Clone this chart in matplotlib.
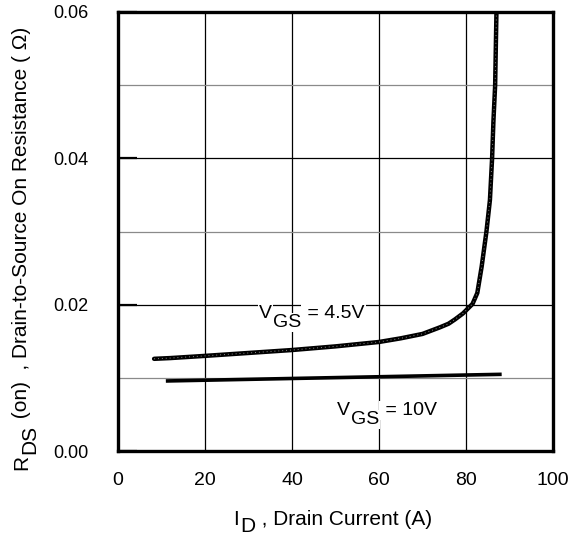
import matplotlib
matplotlib.use("Agg")
import matplotlib.pyplot as plt
import numpy as np

plt.rcParams["font.family"] = ["Liberation Sans", "DejaVu Sans"]

# ── Data ──────────────────────────────────────────────────────────────
id_45 = [8.3, 12, 20, 30, 40, 50, 60, 65, 70, 74, 76, 77.5, 79.3, 81.5,
         82.6, 83.6, 84.7, 85.5, 86.0, 86.3, 86.7, 87.0]
rds_45 = [0.0126, 0.0127, 0.0130, 0.0134, 0.0138, 0.0143, 0.0149, 0.0154,
          0.0160, 0.0169, 0.0174, 0.0180, 0.0188, 0.0201, 0.0216, 0.0252,
          0.0300, 0.0343, 0.0400, 0.0450, 0.0500, 0.0600]

id_10 = [11, 88.2]
rds_10 = [0.00957, 0.01048]

x_ticks = [0, 20, 40, 60, 80, 100]
y_ticks = [0.00, 0.02, 0.04, 0.06]
y_minor = [0.01, 0.03, 0.05]

FIG_W, FIG_H = 570, 537

# ── Figure / axes ─────────────────────────────────────────────────────
fig = plt.figure(figsize=(FIG_W / 100, FIG_H / 100), dpi=100)
ax = fig.add_axes([118 / FIG_W, 1 - 451 / FIG_H, 435 / FIG_W, 439 / FIG_H])

# measured curve: thick black trace with a speckled look
ax.plot(id_45, rds_45, color="black", lw=3.2, solid_capstyle="round", zorder=3)
ax.plot(id_45, rds_45, color="#8c8c8c", lw=0.7, ls=(0, (1, 3)), zorder=4)
ax.plot(id_10, rds_10, color="black", lw=2.6, solid_capstyle="butt", zorder=3)

ax.set_xlim(0, 100)
ax.set_ylim(0, 0.06)
ax.set_xticks(x_ticks)
ax.set_yticks(y_ticks)
ax.set_yticks(y_minor, minor=True)
ax.set_yticklabels([f"{v:.2f}" for v in y_ticks])

ax.grid(True, which="major", axis="both", color="black", lw=0.9, zorder=1)
ax.grid(True, which="minor", axis="y", color="#8a8a8a", lw=0.9, zorder=1)

ax.tick_params(axis="x", which="major", length=0, pad=15, labelsize=14)
ax.tick_params(axis="y", which="major", direction="in", length=14,
               width=1.6, pad=21, labelsize=13)
ax.tick_params(axis="y", which="minor", length=0)

for s in ax.spines.values():
    s.set_linewidth(2.4)
    s.set_zorder(5)


# ── Labels with full-size subscripts ──────────────────────────────────
def rich_text(x, y, pieces, size, rot=0, white=False):
    # x, y: pixel position of the baseline start, top-left origin
    r = fig.canvas.get_renderer()
    pos = 0.0
    for s, drop, gap in pieces:
        pos += gap
        if rot == 0:
            px, py = x + pos, FIG_H - y - drop
        else:
            px, py = x + drop, FIG_H - y + pos
        kw = {}
        if white:
            kw["bbox"] = dict(facecolor="white", edgecolor="none", pad=0.5)
        t = fig.text(px / FIG_W, py / FIG_H, s, fontsize=size, rotation=rot,
                     rotation_mode="anchor", ha="left", va="baseline",
                     zorder=6, **kw)
        bb = t.get_window_extent(r)
        pos += bb.width if rot == 0 else bb.height


rich_text(233, 525, [("I", 0, 0), ("D", 7, 1),
                     (" , Drain Current (A)", 0, 1)], 15)
rich_text(27, 470, [("R", 0, 0), ("DS", 8, 1),
                    (" (on)  , Drain-to-Source On Resistance ( \u03a9)", 0, 1)],
          15, rot=90)
rich_text(259, 318, [("V", 0, 0), ("GS", 9, 1), (" = 4.5V", 0, 1)], 14,
          white=True)
rich_text(337, 415, [("V", 0, 0), ("GS", 9, 1), (" = 10V", 0, 1)], 14,
          white=True)

fig.savefig("out.png", dpi=100)
